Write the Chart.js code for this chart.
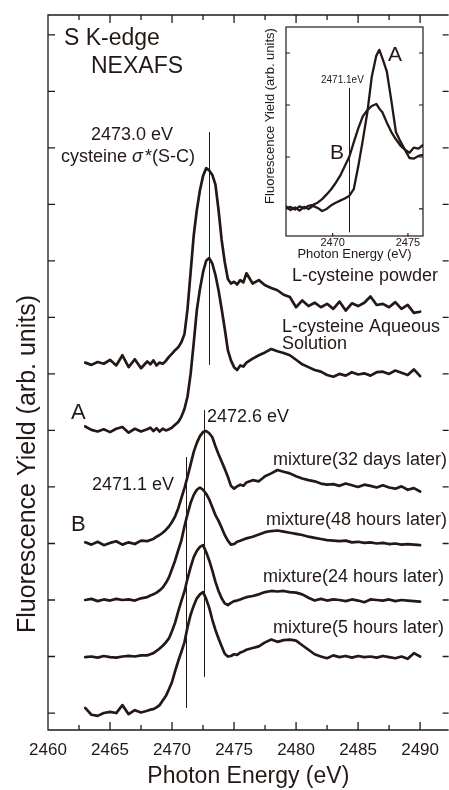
<!DOCTYPE html>
<html lang="en">
<head>
<meta charset="UTF-8">
<title>S K-edge NEXAFS</title>
<script src="https://cdn.jsdelivr.net/npm/chart.js"></script>
<style>
  html, body { margin: 0; padding: 0; background: #fff; }
  #wrap { position: relative; width: 449px; height: 790px; overflow: hidden; }
  #main { position: absolute; left: 0; top: 0; }
  #inset { position: absolute; left: 250px; top: 20px; }
</style>
</head>
<body>
<div id="wrap">
  <canvas id="main" width="449" height="790"></canvas>
  <canvas id="inset" width="185" height="250"></canvas>
</div>

<script>
// photon energy grid (eV) shared by the six stacked spectra
const energy = [
  2463, 2463.5, 2464, 2464.5, 2465, 2465.5, 2466, 2466.5, 2467, 2467.5, 2468,
  2468.25, 2468.5, 2468.75, 2469, 2469.25, 2469.5, 2469.75, 2470, 2470.25, 2470.5, 2470.75, 2471,
  2471.25, 2471.5, 2471.75, 2472, 2472.25, 2472.5, 2472.75, 2473, 2473.25, 2473.5, 2473.75, 2474,
  2474.25, 2474.5, 2474.75, 2475, 2475.25, 2475.5, 2475.75, 2476,
  2476.5, 2477, 2477.5, 2478, 2478.5, 2479, 2479.5, 2480, 2480.5, 2481, 2481.5, 2482, 2482.5, 2483,
  2483.5, 2484, 2484.5, 2485, 2485.5, 2486, 2486.5, 2487, 2487.5, 2488, 2488.5, 2489, 2489.5, 2490
];

// stacked spectra (already offset, one tick = 1 unit)
const powder = [
  6.20, 6.16, 6.21, 6.18, 6.25, 6.15, 6.33, 6.12, 6.26, 6.10, 6.22,
  6.17, 6.24, 6.15, 6.20, 6.18, 6.23, 6.30, 6.36, 6.42, 6.47, 6.56, 6.70,
  7.15, 7.80, 8.45, 8.90, 9.25, 9.50, 9.64, 9.60, 9.52, 9.35, 8.90, 8.37,
  7.98, 7.68, 7.60, 7.63, 7.58, 7.66, 7.62, 7.78,
  7.60, 7.66, 7.57, 7.52, 7.48, 7.40, 7.36, 7.18, 7.30, 7.20, 7.26, 7.18, 7.24, 7.15,
  7.28, 7.12, 7.25, 7.20, 7.26, 7.37, 7.22, 7.24, 7.18, 7.27, 7.15, 7.22, 7.08, 7.10
];
const aqueous = [
  5.07, 5.01, 4.98, 5.02, 4.97, 5.03, 5.06, 4.96, 5.03, 4.98, 5.02,
  5.05, 4.99, 5.04, 4.98, 5.03, 5.00, 5.02, 5.05, 5.10, 5.15, 5.24, 5.38,
  5.60, 6.00, 6.55, 7.13, 7.50, 7.80, 8.00, 8.05, 7.95, 7.75, 7.48, 7.15,
  6.80, 6.42, 6.24, 6.12, 6.07, 6.15, 6.13, 6.20,
  6.27, 6.33, 6.38, 6.44, 6.40, 6.37, 6.33, 6.25, 6.17, 6.12, 6.07, 6.04, 5.98, 5.95,
  6.00, 5.97, 6.03, 5.99, 6.01, 5.97, 6.03, 6.04, 6.00, 6.06, 6.02, 5.98, 6.08, 5.96
];
const days32 = [
  3.02, 2.98, 3.03, 2.97, 3.01, 3.04, 2.98, 3.02, 2.99, 3.05, 3.04,
  3.06, 3.08, 3.12, 3.15, 3.19, 3.24, 3.30, 3.38, 3.48, 3.62, 3.80, 3.98,
  4.18, 4.40, 4.62, 4.78, 4.90, 4.97, 4.99, 4.95, 4.88, 4.72, 4.58, 4.45,
  4.32, 4.18, 4.02, 3.97, 4.01, 4.04, 4.02, 4.08,
  4.12, 4.10, 4.19, 4.24, 4.30, 4.27, 4.24, 4.19, 4.15, 4.12, 4.10, 4.06, 4.04, 4.05,
  4.02, 4.06, 4.03, 4.00, 4.04, 4.02, 3.99, 4.03, 3.99, 3.97, 4.01, 3.95, 3.98, 3.92
];
const hours48 = [
  2.00, 2.02, 1.98, 2.01, 1.99, 2.02, 2.00, 2.01, 1.99, 2.03, 2.05,
  2.08, 2.10, 2.13, 2.17, 2.22, 2.30, 2.40, 2.55, 2.70, 2.88, 3.05, 3.30,
  3.52, 3.72, 3.86, 3.95, 3.99, 3.95, 3.88, 3.78, 3.64, 3.50, 3.40, 3.28,
  3.15, 3.05, 2.98, 2.99, 3.03, 3.05, 3.07, 3.09,
  3.12, 3.16, 3.20, 3.22, 3.23, 3.21, 3.19, 3.17, 3.15, 3.12, 3.10, 3.08, 3.06, 3.05,
  3.04, 3.05, 3.02, 3.03, 3.01, 3.02, 3.00, 3.01, 2.99, 3.00, 2.98, 2.99, 2.98, 2.97
];
const hours24 = [
  0.99, 1.00, 0.98, 1.01, 0.99, 0.98, 1.00, 1.01, 1.00, 1.02, 1.02,
  1.04, 1.06, 1.10, 1.14, 1.19, 1.25, 1.32, 1.45, 1.60, 1.80, 1.98, 2.15,
  2.38, 2.58, 2.76, 2.87, 2.94, 2.97, 2.85, 2.70, 2.52, 2.32, 2.16, 2.03,
  1.94, 1.91, 1.95, 1.98, 1.99, 2.01, 2.03, 2.05,
  2.07, 2.10, 2.14, 2.16, 2.15, 2.16, 2.14, 2.13, 2.10, 2.04, 1.99, 2.02, 1.99, 2.01,
  2.00, 1.98, 2.01, 1.99, 1.96, 2.01, 2.00, 1.99, 2.01, 1.98, 2.00, 1.99, 1.98, 1.97
];
const hours5 = [
  0.09, -0.03, -0.05, 0.00, 0.02, 0.00, 0.14, -0.02, 0.05, 0.01, 0.04,
  0.06, 0.07, 0.10, 0.14, 0.22, 0.30, 0.42, 0.55, 0.74, 0.92, 1.08, 1.25,
  1.52, 1.74, 1.90, 2.03, 2.10, 2.14, 2.02, 1.86, 1.65, 1.47, 1.32, 1.18,
  1.05, 1.00, 1.01, 1.04, 1.03, 1.07, 1.09, 1.12,
  1.15, 1.18, 1.25, 1.30, 1.26, 1.29, 1.30, 1.28, 1.20, 1.12, 1.04, 1.00, 0.97, 1.02,
  0.99, 1.01, 0.98, 1.01, 0.99, 1.00, 0.98, 1.01, 0.99, 0.97, 1.00, 0.96, 1.06, 1.00
];

// marker lines in the main panel: energy, top and bottom (same units as spectra)
const markerEnergy = [2473.0, 2472.6, 2471.1];
const markerTop = [10.28, 5.36, 4.53];
const markerBottom = [6.16, 0.64, 0.09];

const xMajor = [2460, 2465, 2470, 2475, 2480, 2485, 2490];
const xMinor = [2462.5, 2467.5, 2472.5, 2477.5, 2482.5, 2487.5];
const yTicks = [0, 1, 2, 3, 4, 5, 6, 7, 8, 9, 10, 11, 12];

// inset: A = L-cysteine aqueous, B = mixture
const insetEnergy = [
  2466.9, 2467.2, 2467.5, 2467.8, 2468.1, 2468.4, 2468.7, 2469.0, 2469.3, 2469.6, 2469.9,
  2470.2, 2470.5, 2470.8, 2471.1, 2471.4, 2471.7, 2472.0, 2472.3, 2472.6, 2472.9, 2473.1,
  2473.3, 2473.6, 2473.9, 2474.2, 2474.5, 2474.8, 2475.1, 2475.4, 2475.7, 2476.0
];
const insetA = [
  0.05, -0.02, 0.03, -0.03, 0.04, 0.00, 0.06, 0.02, -0.04, 0.00, 0.07,
  0.12, 0.16, 0.20, 0.25, 0.38, 0.82, 1.32, 1.85, 2.55, 2.95, 3.06,
  2.90, 2.64, 2.08, 1.48, 1.30, 1.14, 0.98, 0.97, 1.02, 1.04
];
const insetB = [
  0.02, 0.04, -0.01, 0.05, 0.01, 0.06, 0.08, 0.12, 0.19, 0.28, 0.38,
  0.50, 0.64, 0.82, 1.00, 1.28, 1.55, 1.78, 1.90, 1.98, 2.02, 1.93,
  1.86, 1.66, 1.48, 1.34, 1.22, 1.14, 1.08, 1.18, 1.16, 1.23
];
const insetXTicks = [2470, 2475];
const insetYTicks = [0, 1, 2, 3];
const insetMarker = 2471.1;

const ink = '#231815';
const fam = "'Liberation Sans', Arial, sans-serif";

function spectrum(label, xs, ys, width) {
  return {
    label: label,
    data: xs.map((e, i) => ({ x: e, y: ys[i] })),
    borderColor: ink,
    borderWidth: width,
    pointRadius: 0,
    fill: false,
    tension: 0,
    borderJoinStyle: 'round',
    borderCapStyle: 'round'
  };
}

function txt(ctx, t, x, y, size, align, style) {
  ctx.font = (style || '') + ' ' + size + 'px ' + fam;
  ctx.textAlign = align || 'left';
  ctx.textBaseline = 'middle';
  ctx.fillStyle = ink;
  ctx.fillText(t, x, y);
}

const mainDecor = {
  id: 'mainDecor',
  afterDraw(chart) {
    const { ctx, chartArea: a, scales: { x, y } } = chart;
    ctx.save();
    ctx.strokeStyle = ink;
    ctx.lineWidth = 1.3;
    ctx.beginPath();
    ctx.moveTo(a.right, a.top); ctx.lineTo(a.left, a.top);
    ctx.lineTo(a.left, a.bottom); ctx.lineTo(a.right, a.bottom);
    // x ticks, bottom and top, pointing inward
    xMajor.forEach(v => {
      const px = x.getPixelForValue(v);
      ctx.moveTo(px, a.bottom); ctx.lineTo(px, a.bottom - 8);
      ctx.moveTo(px, a.top); ctx.lineTo(px, a.top + 8);
    });
    xMinor.forEach(v => {
      const px = x.getPixelForValue(v);
      ctx.moveTo(px, a.bottom); ctx.lineTo(px, a.bottom - 5);
      ctx.moveTo(px, a.top); ctx.lineTo(px, a.top + 5);
    });
    yTicks.forEach(v => {
      const py = y.getPixelForValue(v);
      ctx.moveTo(a.left, py); ctx.lineTo(a.left + 7, py);
      ctx.moveTo(a.right, py); ctx.lineTo(a.right - 6, py);
    });
    ctx.stroke();

    // marker lines
    ctx.lineWidth = 1;
    ctx.beginPath();
    markerEnergy.forEach((e, i) => {
      const px = Math.round(x.getPixelForValue(e)) + 0.5;
      ctx.moveTo(px, y.getPixelForValue(markerTop[i]));
      ctx.lineTo(px, y.getPixelForValue(markerBottom[i]));
    });
    ctx.stroke();

    // annotations
    txt(ctx, 'S K-edge', 64, 39, 23);
    txt(ctx, 'NEXAFS', 91, 67, 23);
    txt(ctx, '2473.0 eV', 132, 135, 18, 'center');
    txt(ctx, 'cysteine ', 61, 157, 18);
    ctx.font = '18px ' + fam;
    let cx = 61 + ctx.measureText('cysteine ').width;
    txt(ctx, 'σ', cx, 157, 18, 'left', 'italic');
    ctx.font = 'italic 18px ' + fam;
    cx += ctx.measureText('σ').width + 2;
    txt(ctx, '*(S-C)', cx, 157, 18);
    txt(ctx, 'L-cysteine powder', 438, 276, 18, 'right');
    txt(ctx, 'L-cysteine Aqueous', 282, 327, 18);
    txt(ctx, 'Solution', 282, 344, 18);
    txt(ctx, 'A', 71, 413, 22);
    txt(ctx, '2472.6 eV', 207, 417, 18);
    txt(ctx, 'mixture(32 days later)', 447, 460, 18, 'right');
    txt(ctx, '2471.1 eV', 92, 485, 18);
    txt(ctx, 'mixture(48 hours later)', 447, 520, 18, 'right');
    txt(ctx, 'B', 71, 525, 22);
    txt(ctx, 'mixture(24 hours later)', 444, 577, 18, 'right');
    txt(ctx, 'mixture(5 hours later)', 444, 628, 18, 'right');

    // y axis title
    ctx.translate(28, 464);
    ctx.rotate(-Math.PI / 2);
    txt(ctx, 'Fluorescence Yield (arb. units)', 0, 0, 25, 'center');
    ctx.restore();
  }
};

const insetDecor = {
  id: 'insetDecor',
  beforeDraw(chart) {
    const { ctx, chartArea: a } = chart;
    ctx.save();
    ctx.fillStyle = '#fff';
    ctx.fillRect(a.left, a.top, a.right - a.left, a.bottom - a.top);
    ctx.restore();
  },
  afterDraw(chart) {
    const { ctx, chartArea: a, scales: { x, y } } = chart;
    ctx.save();
    ctx.strokeStyle = ink;
    ctx.lineWidth = 1.2;
    ctx.strokeRect(a.left, a.top, a.right - a.left, a.bottom - a.top);
    ctx.beginPath();
    insetYTicks.forEach(v => {
      const py = y.getPixelForValue(v);
      ctx.moveTo(a.left, py); ctx.lineTo(a.left + 4, py);
      ctx.moveTo(a.right, py); ctx.lineTo(a.right - 4, py);
    });
    insetXTicks.forEach(v => {
      const px = x.getPixelForValue(v);
      ctx.moveTo(px, a.bottom); ctx.lineTo(px, a.bottom - 3);
    });
    ctx.stroke();

    ctx.lineWidth = 1;
    ctx.beginPath();
    const mx = Math.round(x.getPixelForValue(insetMarker)) + 0.5;
    ctx.moveTo(mx, y.getPixelForValue(2.33));
    ctx.lineTo(mx, y.getPixelForValue(-0.45));
    ctx.stroke();

    txt(ctx, '2471.1eV', 71, 60, 10);
    txt(ctx, 'A', 138, 35, 21);
    txt(ctx, 'B', 80, 133, 21);

    ctx.translate(20, 96);
    ctx.rotate(-Math.PI / 2);
    txt(ctx, 'Fluorescence Yield (arb. units)', 0, 0, 13, 'center');
    ctx.restore();
  }
};

new Chart(document.getElementById('main'), {
  type: 'line',
  data: {
    datasets: [
      spectrum('L-cysteine powder', energy, powder, 2.7),
      spectrum('L-cysteine Aqueous Solution', energy, aqueous, 2.7),
      spectrum('mixture(32 days later)', energy, days32, 2.7),
      spectrum('mixture(48 hours later)', energy, hours48, 2.7),
      spectrum('mixture(24 hours later)', energy, hours24, 2.7),
      spectrum('mixture(5 hours later)', energy, hours5, 2.7)
    ]
  },
  options: {
    responsive: false,
    animation: false,
    layout: { padding: { top: 15, right: 0, bottom: 0, left: 0 } },
    plugins: { legend: { display: false }, tooltip: { enabled: false } },
    scales: {
      x: {
        type: 'linear',
        min: 2460,
        max: 2492.3,
        afterBuildTicks: s => { s.ticks = xMajor.map(v => ({ value: v })); },
        afterFit: s => { s.height = 60; },
        grid: { display: false, drawTicks: false },
        border: { display: false },
        ticks: {
          font: { family: fam, size: 17 }, color: ink, padding: 10, maxRotation: 0, autoSkip: false,
          callback: v => String(v)
        },
        title: { display: true, text: 'Photon Energy (eV)', font: { family: fam, size: 23 }, color: ink, padding: { top: 0, bottom: 0 } }
      },
      y: {
        min: -0.3,
        max: 12.35,
        afterFit: s => { s.width = 48; },
        grid: { display: false, drawTicks: false },
        border: { display: false },
        ticks: { display: false }
      }
    }
  },
  plugins: [mainDecor]
});

new Chart(document.getElementById('inset'), {
  type: 'line',
  data: {
    datasets: [
      spectrum('A', insetEnergy, insetA, 2.3),
      spectrum('B', insetEnergy, insetB, 2.3)
    ]
  },
  options: {
    responsive: false,
    animation: false,
    layout: { padding: { top: 7, right: 12, bottom: 0, left: 0 } },
    plugins: { legend: { display: false }, tooltip: { enabled: false } },
    scales: {
      x: {
        type: 'linear',
        min: 2466.9,
        max: 2476,
        afterBuildTicks: s => { s.ticks = insetXTicks.map(v => ({ value: v })); },
        afterFit: s => { s.height = 34; },
        grid: { display: false, drawTicks: false },
        border: { display: false },
        ticks: {
          font: { family: fam, size: 11 }, color: ink, padding: 0, maxRotation: 0, autoSkip: false,
          callback: v => String(v)
        },
        title: { display: true, text: 'Photon Energy (eV)', font: { family: fam, size: 13 }, color: ink, padding: { top: 0, bottom: 8 } }
      },
      y: {
        min: -0.52,
        max: 3.5,
        afterFit: s => { s.width = 36; },
        grid: { display: false, drawTicks: false },
        border: { display: false },
        ticks: { display: false }
      }
    }
  },
  plugins: [insetDecor]
});
</script>
</body>
</html>
